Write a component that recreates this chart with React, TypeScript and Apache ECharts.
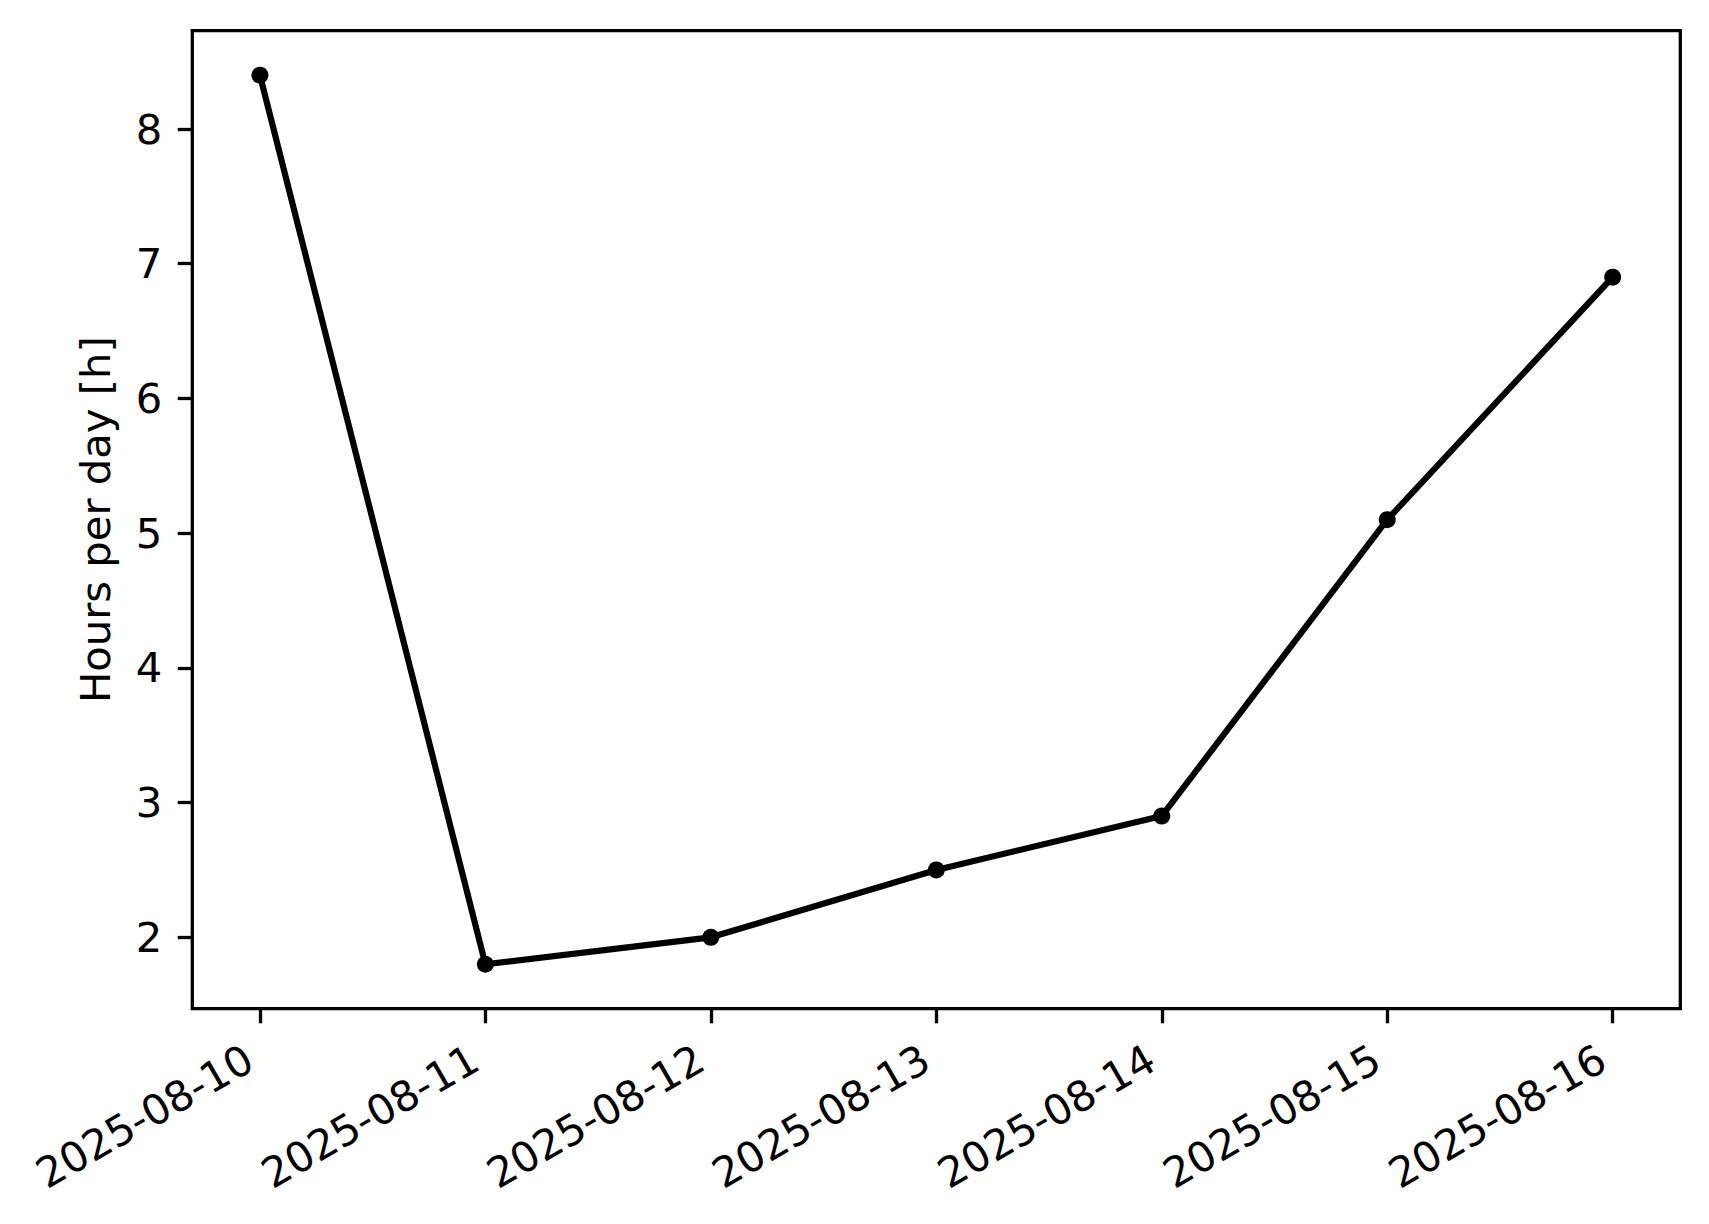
import React, { useEffect, useRef } from "react";
import * as echarts from "echarts";

const dates = ["2025-08-10", "2025-08-11", "2025-08-12", "2025-08-13", "2025-08-14", "2025-08-15", "2025-08-16"];
const hours = [8.4, 1.8, 2.0, 2.5, 2.9, 5.1, 6.9];
const yTicks = [2, 3, 4, 5, 6, 7, 8];
const yLabel = "Hours per day [h]";

const FONT = "DejaVu Sans";
const FS = 41.7;

export default function App() {
  const ref = useRef<HTMLDivElement>(null);
  useEffect(() => {
    if (!ref.current) return;
    const chart = echarts.init(ref.current, null, { renderer: "svg" });
    const xIdx = dates.map((_, i) => i);
    const span = Math.max(...hours) - Math.min(...hours);
    const yMin = Math.min(...hours) - 0.05 * span;
    const yMax = Math.max(...hours) + 0.05 * span;
    const xPad = 0.05 * (xIdx.length - 1);
    chart.setOption({
      animation: false,
      backgroundColor: "#ffffff",
      grid: {
        left: 192.3,
        right: 28.7,
        top: 30.7,
        bottom: 215.3,
        show: true,
        borderColor: "#000",
        borderWidth: 3.3,
        backgroundColor: "transparent",
      },
      xAxis: {
        type: "value",
        min: -xPad,
        max: xIdx.length - 1 + xPad,
        splitLine: { show: false },
        axisLine: { show: false, onZero: false },
        axisTick: {
          show: true,
          customValues: xIdx,
          length: 14.6,
          lineStyle: { color: "#000", width: 3.3 },
        },
        axisLabel: {
          customValues: xIdx,
          rotate: 30,
          margin: 41,
          padding: [0, 12, 0, 0],
          fontFamily: FONT,
          fontSize: FS,
          color: "#000",
          formatter: (v: number) => dates[Math.round(v)] ?? "",
        },
      },
      yAxis: {
        type: "value",
        min: yMin,
        max: yMax,
        name: yLabel,
        nameLocation: "middle",
        nameGap: 76,
        nameTextStyle: { fontFamily: FONT, fontSize: FS, color: "#000" },
        splitLine: { show: false },
        axisLine: { show: false, onZero: false },
        axisTick: {
          show: true,
          customValues: yTicks,
          length: 14.6,
          lineStyle: { color: "#000", width: 3.3 },
        },
        axisLabel: {
          customValues: yTicks,
          margin: 30,
          fontFamily: FONT,
          fontSize: FS,
          color: "#000",
          formatter: (v: number) => String(v),
        },
      },
      series: [
        {
          type: "line",
          data: xIdx.map((i) => [i, hours[i]]),
          lineStyle: { color: "#000", width: 6.2 },
          itemStyle: { color: "#000" },
          symbol: "circle",
          symbolSize: 17,
          showSymbol: true,
        },
      ],
    });
    return () => chart.dispose();
  }, []);
  return (
    <div
      ref={ref}
      style={{ position: "fixed", left: 0, top: 0, width: 1709, height: 1224, background: "#fff" }}
    />
  );
}
